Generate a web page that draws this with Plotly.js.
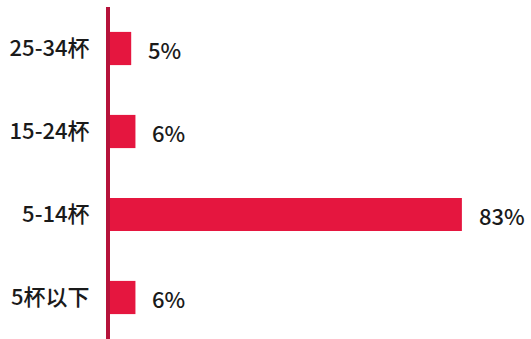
<!DOCTYPE html>
<html><head><meta charset="utf-8">
<script src="https://cdn.plot.ly/plotly-3.0.1.min.js"></script>
<style>html,body{margin:0;padding:0;background:#fff;}#chart{width:531px;height:339px;}</style>
</head><body><div id="chart"></div>
<script>
const categories = ["5杯以下", "5-14杯", "15-24杯", "25-34杯"];
const values = [6, 83, 6, 5];
const valueLabels = ["6%", "83%", "6%", "5%"];

const barColor = "#e5163f";
const axisColor = "#b5123a";
const textColor = "#1a1a1a";
const font = "'Noto Sans CJK SC', 'Noto Sans', sans-serif";

const trace = {
  type: "bar", orientation: "h",
  y: categories, x: values,
  marker: {color: barColor},
  width: 0.4,
  hoverinfo: "none"
};

const annotations = values.map((v, i) => ({
  x: v, y: categories[i], xref: "x", yref: "y",
  text: valueLabels[i], showarrow: false,
  xanchor: "left", yanchor: "middle", xshift: 15,
  font: {family: font, size: 22, color: textColor, weight: 500}
}));

const layout = {
  width: 531, height: 339,
  margin: {l: 110, r: 0, t: 7, b: 0},
  paper_bgcolor: "#fff", plot_bgcolor: "#fff",
  showlegend: false,
  xaxis: {range: [0, 99.3], visible: false, fixedrange: true},
  yaxis: {
    type: "category", categoryorder: "array", categoryarray: categories,
    range: [-0.5, 3.5],
    showline: true, linecolor: axisColor, linewidth: 4,
    showgrid: false, zeroline: false, ticks: "",
    ticklabelstandoff: 12,
    tickfont: {family: font, size: 22, color: textColor, weight: 500}
  },
  annotations: annotations
};

Plotly.newPlot("chart", [trace], layout, {displayModeBar: false, staticPlot: true});
</script></body></html>
